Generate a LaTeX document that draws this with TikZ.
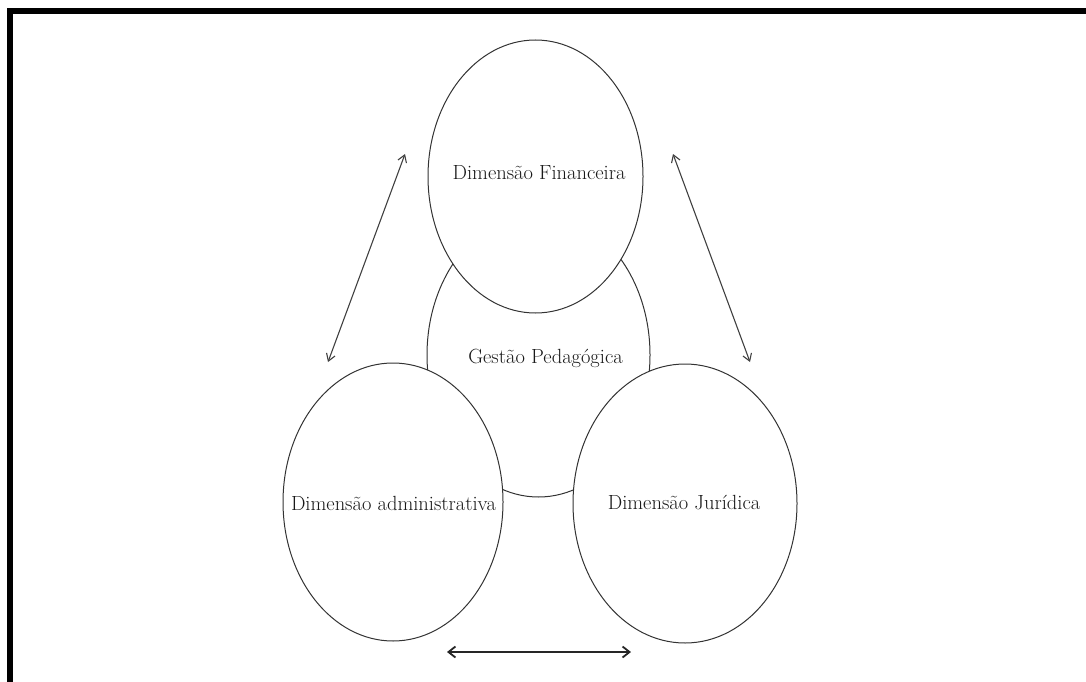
\documentclass[tikz,border=0pt]{standalone}
\usetikzlibrary{arrows.meta}
\begin{document}
\begin{tikzpicture}[x=1pt,y=-1pt,
  bubble/.style={draw=black!80,line width=1pt,fill=white},
  lbl/.style={font=\fontsize{20.5}{24}\selectfont,text=black!90,inner sep=0pt},
  link/.style={draw=black!75,line width=1.1pt,{Straight Barb[length=7pt,width=9pt]}-{Straight Barb[length=7pt,width=9pt]}},
  linkb/.style={draw=black!85,line width=1.8pt,{Straight Barb[length=7pt,width=11pt]}-{Straight Barb[length=7pt,width=11pt]}}]
\useasboundingbox (0,0) rectangle (1086,682);
% frame
\fill[black] (7,8) rectangle (1086,14);
\fill[black] (7,8) rectangle (13,682);
% ellipses
\draw[bubble] (538.5,355) ellipse [x radius=111.5, y radius=142];
\draw[bubble] (535.5,176.5) ellipse [x radius=107.5, y radius=136.5];
\draw[bubble] (393,502) ellipse [x radius=110, y radius=139];
\draw[bubble] (685,503.5) ellipse [x radius=112, y radius=139.5];
% labels
\node[lbl] (fin) at (539,173) {Dimensão Financeira};
\node[lbl] (ped) at (545.5,358) {Gestão Pedagógica};
\node[lbl] (adm) at (393.5,503) {Dimensão administrativa};
\node[lbl] (jur) at (684,503) {Dimensão Jurídica};
% arrow ends
\coordinate (la) at (405,154);
\coordinate (lb) at (328,362);
\coordinate (ra) at (673,154);
\coordinate (rb) at (750,362);
\coordinate (ba) at (447,652);
\coordinate (bb) at (631,652);
\draw[link] (la) -- (lb);
\draw[link] (ra) -- (rb);
\draw[linkb] (ba) -- (bb);
\end{tikzpicture}
\end{document}
